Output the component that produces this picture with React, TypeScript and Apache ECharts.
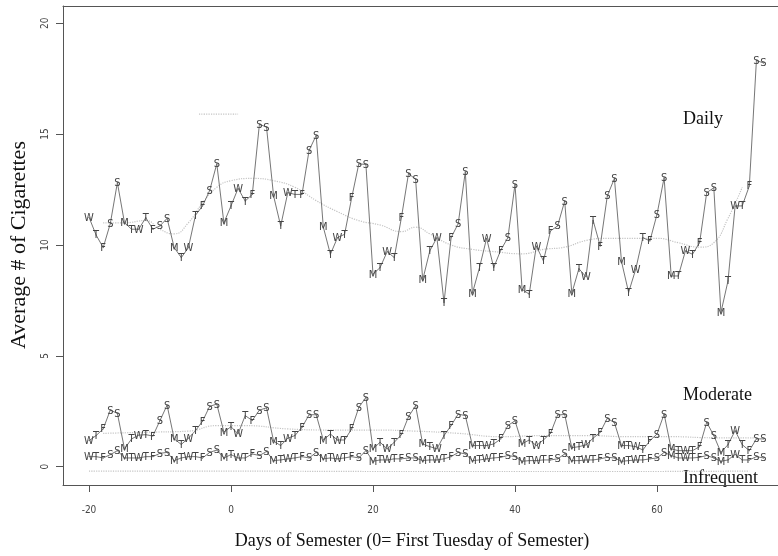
import React, { useEffect, useRef } from "react";
import * as echarts from "echarts";

// Day 0 = first Tuesday of semester
const weekdays = ["T", "W", "T", "F", "S", "S", "M"];
const firstDay = -20;

const daily = [
  11.25, 10.45, 9.88, 10.96, 12.81, 11.0, 10.71, 10.71, 11.23, 10.71, 10.86, 11.2, 9.88, 9.43,
  9.88, 11.34, 11.76, 12.46, 13.66, 11.0, 11.76, 12.55, 11.98, 12.28, 15.44, 15.32, 12.21, 10.86,
  12.36, 12.28, 12.28, 14.27, 14.94, 10.81, 9.58, 10.33, 10.48, 12.13, 13.66, 13.63, 8.68, 8.98,
  9.7, 9.43, 11.23, 13.22, 12.96, 8.42, 9.73, 10.33, 7.4, 10.33, 10.96, 13.3, 7.82, 8.98,
  10.3, 8.98, 9.77, 10.33, 12.73, 8.0, 7.78, 9.95, 9.28, 10.63, 10.86, 11.98, 7.82, 8.93,
  8.56, 11.11, 9.95, 12.21, 13.0, 9.25, 7.86, 8.9, 10.33, 10.18, 11.38, 13.03, 8.6, 8.6,
  9.73, 9.58, 10.1, 12.36, 12.58, 6.95, 8.38, 11.76, 11.76, 12.66, 18.32, 18.21,
];

const moderate = [
  1.17, 1.4, 1.7, 2.55, 2.4, 0.8, 1.25, 1.42, 1.44, 1.38, 2.08, 2.77, 1.25, 1.0,
  1.28, 1.62, 2.05, 2.72, 2.82, 1.56, 1.8, 1.48, 2.3, 2.08, 2.55, 2.65, 1.15, 0.95,
  1.28, 1.4, 1.77, 2.34, 2.34, 1.2, 1.47, 1.2, 1.2, 1.7, 2.67, 3.12, 0.8, 1.1,
  0.8, 1.1, 1.44, 2.25, 2.75, 1.02, 0.9, 0.8, 1.4, 1.85, 2.37, 2.3, 0.95, 0.95,
  0.95, 1.02, 1.25, 1.85, 2.07, 1.03, 1.2, 0.95, 1.2, 1.5, 2.33, 2.35, 0.85, 0.9,
  0.98, 1.28, 1.55, 2.18, 1.98, 0.95, 0.95, 0.9, 0.75, 1.17, 1.47, 2.37, 0.8, 0.72,
  0.72, 0.72, 0.9, 2.0, 1.4, 0.64, 0.99, 1.62, 0.99, 0.72, 1.25, 1.25,
];

const infrequent = [
  0.45, 0.45, 0.39, 0.54, 0.72, 0.39, 0.39, 0.39, 0.45, 0.45, 0.6, 0.64, 0.27, 0.39,
  0.45, 0.45, 0.39, 0.64, 0.75, 0.39, 0.54, 0.39, 0.39, 0.57, 0.5, 0.68, 0.27, 0.3,
  0.35, 0.39, 0.45, 0.39, 0.64, 0.35, 0.39, 0.35, 0.39, 0.45, 0.39, 0.72, 0.24, 0.3,
  0.3, 0.35, 0.35, 0.39, 0.39, 0.27, 0.3, 0.3, 0.35, 0.45, 0.64, 0.57, 0.27, 0.3,
  0.35, 0.39, 0.42, 0.5, 0.45, 0.24, 0.27, 0.27, 0.3, 0.3, 0.35, 0.57, 0.27, 0.27,
  0.3, 0.3, 0.35, 0.42, 0.39, 0.24, 0.27, 0.3, 0.3, 0.35, 0.39, 0.64, 0.5, 0.39,
  0.39, 0.39, 0.42, 0.5, 0.39, 0.24, 0.3, 0.55, 0.3, 0.3, 0.45, 0.39,
];

// smoothed trend curves
const dailyTrendDays = [-18, -15, -12, -10, -8, -6, -4, -2, 0, 3, 6, 9, 12, 15, 18, 21, 24, 26, 28, 31, 34, 37, 41, 44, 47, 50, 53, 57, 60, 63, 66, 68, 70, 72];
const dailyTrend = [11.0, 11.0, 11.1, 10.7, 10.5, 11.0, 11.9, 12.6, 12.9, 13.0, 12.9, 12.6, 12.0, 11.5, 11.1, 10.9, 10.6, 10.8, 10.5, 10.0, 9.8, 9.7, 9.6, 9.8, 9.9, 10.2, 10.3, 10.3, 10.3, 10.1, 9.9, 10.1, 11.2, 12.6];
const upperDays = [-4.5, 1];
const upperTrend = [15.9, 15.9];
const moderateTrendDays = [-18, -12, -6, -2, 2, 8, 14, 20, 26, 32, 38, 44, 50, 56, 62, 68, 74];
const moderateTrend = [1.5, 1.55, 1.6, 1.85, 1.85, 1.7, 1.65, 1.65, 1.6, 1.5, 1.35, 1.4, 1.4, 1.35, 1.35, 1.3, 1.3];
const infrequentTrendDays = [-20, 0, 20, 40, 60, 73];
const infrequentTrend = [-0.2, -0.2, -0.22, -0.22, -0.22, -0.2];

const xTicks = [-20, 0, 20, 40, 60];
const yTicks = [0, 5, 10, 15, 20];

const groupLabels = ["Daily", "Moderate", "Infrequent"];
const xTitle = "Days of Semester (0= First Tuesday of Semester)";
const yTitle = "Average # of Cigarettes";

const letterOf = (d: number) => weekdays[((d % 7) + 7) % 7];
const toPairs = (vals: number[]) => vals.map((v, i) => [firstDay + i, v]);
const zip = (xs: number[], ys: number[]) => xs.map((x, i) => [x, ys[i]]);

const SERIF = '"Liberation Serif", "Times New Roman", serif';
const SANS = '"Liberation Sans Narrow", "DejaVu Sans Condensed", "Liberation Sans", Arial, sans-serif';
const FRAME = "#555";

function dataSeries(name: string, vals: number[]) {
  return {
    name,
    type: "line",
    data: toPairs(vals),
    symbol: "circle",
    symbolSize: 1,
    itemStyle: { color: "#666" },
    lineStyle: { color: "#666", width: 0.9 },
    label: {
      show: true,
      position: [0.5, 0.5],
      align: "center",
      verticalAlign: "middle",
      formatter: (p: any) => letterOf(p.value[0]),
      fontFamily: SANS,
      fontSize: 11,
      color: "#444",
      textBorderWidth: 0,
    },
    z: 3,
  };
}

function trendSeries(name: string, xs: number[], ys: number[]) {
  return {
    name,
    type: "line",
    data: zip(xs, ys),
    smooth: true,
    symbol: "none",
    lineStyle: { color: "#c4c4c4", width: 1.2, type: "dotted" },
    silent: true,
    z: 2,
  };
}

export default function App() {
  const ref = useRef<HTMLDivElement>(null);
  useEffect(() => {
    document.body.style.margin = "0";
    const chart = echarts.init(ref.current!, undefined, { renderer: "svg" });
    chart.setOption({
      animation: false,
      backgroundColor: "#fff",
      grid: { left: 63, top: 6, right: 0, bottom: 71, show: false },
      xAxis: [
        {
          type: "value",
          position: "bottom",
          min: -23.66,
          max: 77.04,
          splitLine: { show: false },
          axisLine: { show: true, onZero: false, lineStyle: { color: FRAME, width: 1 } },
          axisTick: { show: true, length: 7, lineStyle: { color: FRAME }, customValues: xTicks },
          axisLabel: {
            customValues: xTicks,
            margin: 19,
            fontFamily: SANS,
            fontSize: 10,
            color: "#444",
          },
        },
        {
          type: "value",
          position: "top",
          min: -23.66,
          max: 77.04,
          splitLine: { show: false },
          axisLine: { show: true, onZero: false, lineStyle: { color: FRAME, width: 1 } },
          axisTick: { show: false },
          axisLabel: { show: false },
        },
      ],
      yAxis: {
        type: "value",
        min: -0.83,
        max: 20.78,
        splitLine: { show: false },
        axisLine: { show: true, onZero: false, lineStyle: { color: FRAME, width: 1 } },
        axisTick: { show: true, length: 7, lineStyle: { color: FRAME }, customValues: yTicks },
        axisLabel: {
          customValues: yTicks,
          rotate: 90,
          margin: 14,
          fontFamily: SANS,
          fontSize: 10,
          color: "#444",
        },
      },
      graphic: [
        {
          type: "text",
          x: 683,
          y: 118,
          style: { text: groupLabels[0], font: `18px ${SERIF}`, fill: "#111", textAlign: "left", textVerticalAlign: "middle" },
        },
        {
          type: "text",
          x: 683,
          y: 394,
          style: { text: groupLabels[1], font: `18px ${SERIF}`, fill: "#111", textAlign: "left", textVerticalAlign: "middle" },
        },
        {
          type: "text",
          x: 683,
          y: 477,
          style: { text: groupLabels[2], font: `18px ${SERIF}`, fill: "#111", textAlign: "left", textVerticalAlign: "middle" },
        },
        {
          type: "text",
          x: 412,
          y: 540,
          style: { text: xTitle, font: `18px ${SERIF}`, fill: "#111", textAlign: "center", textVerticalAlign: "middle" },
        },
        {
          type: "text",
          x: 17,
          y: 245,
          rotation: Math.PI / 2,
          style: { text: yTitle, font: `22px ${SERIF}`, fill: "#111", textAlign: "center", textVerticalAlign: "middle" },
        },
      ],
      series: [
        trendSeries("DailyTrend", dailyTrendDays, dailyTrend),
        trendSeries("UpperTrend", upperDays, upperTrend),
        trendSeries("ModerateTrend", moderateTrendDays, moderateTrend),
        trendSeries("InfrequentTrend", infrequentTrendDays, infrequentTrend),
        dataSeries("Daily", daily),
        dataSeries("Moderate", moderate),
        dataSeries("Infrequent", infrequent),
      ],
    });
    return () => chart.dispose();
  }, []);
  return (
    <div style={{ position: "absolute", left: 0, top: 0, filter: "grayscale(1)", background: "#fff" }}>
      <div ref={ref} style={{ width: 778, height: 556 }} />
    </div>
  );
}
